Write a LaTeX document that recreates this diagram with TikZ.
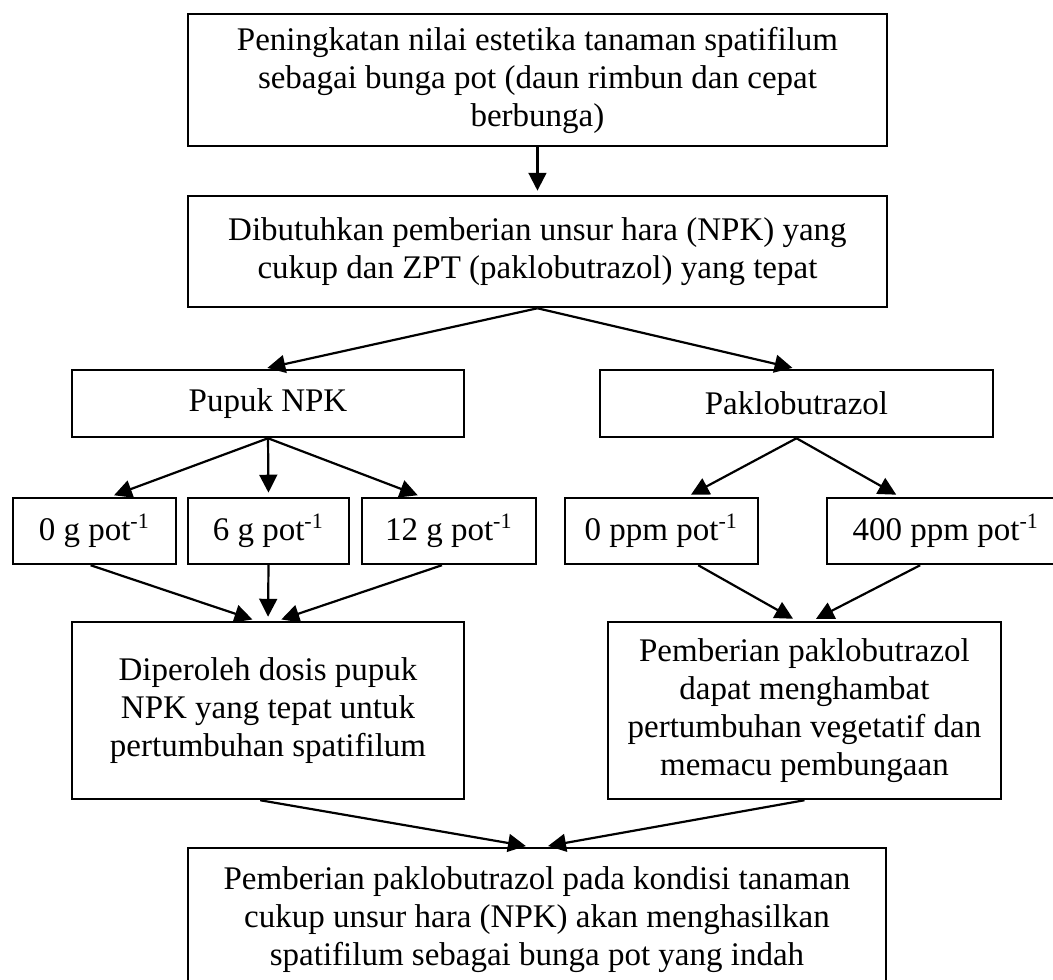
\documentclass[tikz,border=0pt]{standalone}
\usepackage{fontspec}
\setmainfont{Liberation Serif}
\usepackage{tikz}
\usetikzlibrary{arrows.meta, positioning, calc}

\begin{document}
\begin{tikzpicture}[
    box/.style={draw, line width=0.9pt, align=center, inner sep=0pt, font=\fontsize{12}{13.8}\selectfont},
    arr/.style={-{Triangle[length=6.5pt, width=6.5pt]}, line width=0.8pt, shorten >=1.5pt}
]
    % Frame
    \useasboundingbox (0,0) rectangle (13.46,-12.514);
    \clip (0,0) rectangle (13.46,-12.514);

    % Top boxes
    \node[box, minimum width=8.935cm, minimum height=1.687cm] (tujuan) at (6.870,-1.023)
        {Peningkatan nilai estetika tanaman spatifilum\\sebagai bunga pot (daun rimbun dan cepat\\berbunga)};
    \node[box, minimum width=8.935cm, minimum height=1.419cm] (butuh) at (6.870,-3.215)
        {Dibutuhkan pemberian unsur hara (NPK) yang\\cukup dan ZPT (paklobutrazol) yang tepat};

    % Treatments
    \node[box, minimum width=5.011cm, minimum height=0.856cm] (npk) at (3.426,-5.158) {Pupuk NPK};
    \node[box, minimum width=5.023cm, minimum height=0.856cm] (pbz) at (10.181,-5.158) {Paklobutrazol};

    % Doses
    \node[box, minimum width=2.083cm, minimum height=0.844cm] (g0) at (1.208,-6.787) {0 g pot\textsuperscript{-1}};
    \node[box, minimum width=2.058cm, minimum height=0.844cm] (g6) at (3.432,-6.787) {6 g pot\textsuperscript{-1}};
    \node[box, minimum width=2.224cm, minimum height=0.844cm] (g12) at (5.739,-6.787) {12 g pot\textsuperscript{-1}};
    \node[box, minimum width=2.467cm, minimum height=0.844cm] (p0) at (8.455,-6.787) {0 ppm pot\textsuperscript{-1}};
    \node[box, minimum width=3.042cm, minimum height=0.844cm] (p400) at (12.092,-6.787) {400 ppm pot\textsuperscript{-1}};

    % Results
    \node[box, minimum width=5.011cm, minimum height=2.262cm] (dosis) at (3.426,-9.082)
        {Diperoleh dosis pupuk\\NPK yang tepat untuk\\pertumbuhan spatifilum};
    \node[box, minimum width=5.023cm, minimum height=2.262cm] (hambat) at (10.283,-9.082)
        {Pemberian paklobutrazol\\dapat menghambat\\pertumbuhan vegetatif dan\\memacu pembungaan};
    \node[box, minimum width=8.922cm, minimum height=1.828cm] (hasil) at (6.864,-11.753)
        {Pemberian paklobutrazol pada kondisi tanaman\\cukup unsur hara (NPK) akan menghasilkan\\spatifilum sebagai bunga pot yang indah};

    % Arrows
    \draw[arr] (tujuan.south) -- (butuh.north);
    \draw[arr] (butuh.south) -- ([xshift=-0.06cm]npk.north);
    \draw[arr] (butuh.south) -- (pbz.north);

    \draw[arr] (npk.south) -- ([xshift=0.2cm]g0.north);
    \draw[arr] (npk.south) -- (g6.north);
    \draw[arr] (npk.south) -- ([xshift=-0.35cm]g12.north);
    \draw[arr] (pbz.south) -- ([xshift=0.33cm]p0.north);
    \draw[arr] (pbz.south) -- ([xshift=-0.59cm]p400.north);

    \draw[arr] ([xshift=-0.05cm]g0.south) -- ([xshift=-0.15cm]dosis.north);
    \draw[arr] (g6.south) -- (dosis.north);
    \draw[arr] ([xshift=-0.09cm]g12.south) -- ([xshift=0.12cm]dosis.north);
    \draw[arr] ([xshift=0.47cm]p0.south) -- ([xshift=-0.1cm]hambat.north);
    \draw[arr] ([xshift=-0.33cm]p400.south) -- ([xshift=0.1cm]hambat.north);

    \draw[arr] ([xshift=-0.1cm]dosis.south) -- ([xshift=-0.09cm]hasil.north);
    \draw[arr] (hambat.south) -- ([xshift=0.09cm]hasil.north);
\end{tikzpicture}
\end{document}
